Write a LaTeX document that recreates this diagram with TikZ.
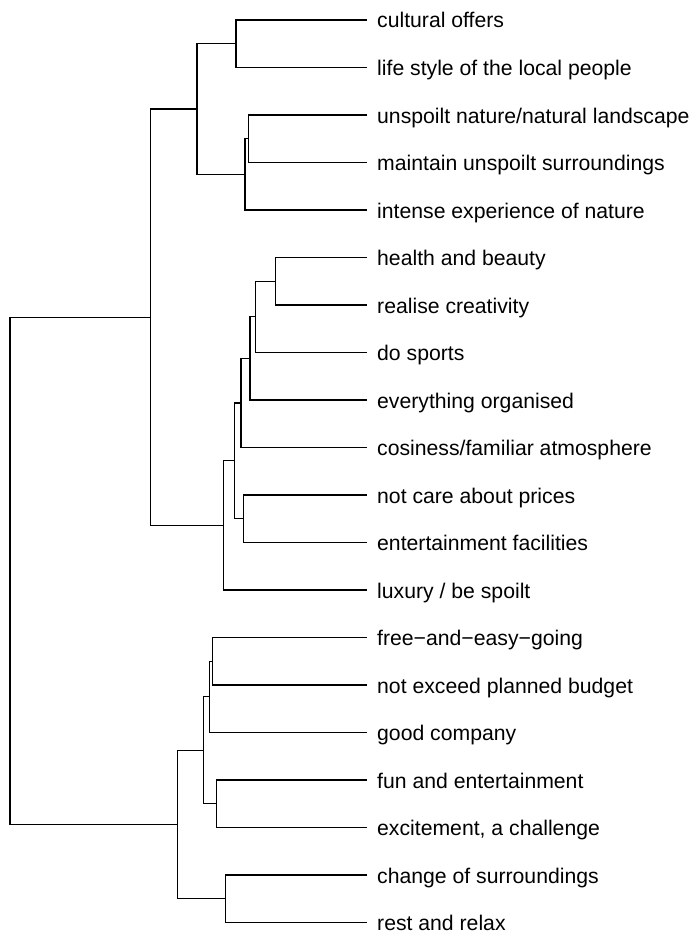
\documentclass[tikz,border=0pt]{standalone}
\usepackage{fontspec}
\setmainfont{Liberation Sans}
\begin{document}
\begin{tikzpicture}[x=1pt,y=-1pt,
  lbl/.style={anchor=base west,inner sep=0pt,font=\fontsize{21.2}{25}\selectfont},
  branch/.style={draw=black,line width=1.2pt,line cap=rect}]
\useasboundingbox (0,0) rectangle (692,934);
% leaves
\foreach \i/\t in {1/{cultural offers},2/{life style of the local people},3/{unspoilt nature/natural landscape},
  4/{maintain unspoilt surroundings},5/{intense experience of nature},6/{health and beauty},7/{realise creativity},
  8/{do sports},9/{everything organised},10/{cosiness/familiar atmosphere},11/{not care about prices},
  12/{entertainment facilities},13/{luxury / be spoilt},14/{free−and−easy−going},15/{not exceed planned budget},
  16/{good company},17/{fun and entertainment},18/{excitement, a challenge},19/{change of surroundings},20/{rest and relax}}{
  \pgfmathsetmacro{\yy}{20+47.5*(\i-1)}
  \coordinate (l\i) at (366.7,\yy);
  \node[lbl] (t\i) at (377,\yy+8) {\t};
}
% merge points
\coordinate (A) at (236,43.75);
\coordinate (B) at (248.7,138.75);
\coordinate (C) at (245,174.375);
\coordinate (D) at (197,109.06);
\coordinate (F) at (275.3,281.25);
\coordinate (G) at (255.3,316.875);
\coordinate (H) at (250,358.44);
\coordinate (I) at (241,402.97);
\coordinate (K) at (243.7,518.75);
\coordinate (J) at (234.3,460.86);
\coordinate (L) at (223.3,525.43);
\coordinate (E) at (150.7,317.25);
\coordinate (M) at (212.7,661.25);
\coordinate (N) at (209.3,696.875);
\coordinate (P) at (216.7,803.75);
\coordinate (O) at (203.7,750.31);
\coordinate (R) at (225.3,898.75);
\coordinate (Q) at (177.3,824.53);
\coordinate (root) at (10,570.89);
% branches
\path[branch] (l1) -| (A) |- (l2);
\path[branch] (l3) -| (B) |- (l4);
\path[branch] (B) -| (C) |- (l5);
\path[branch] (A) -| (D) |- (C);
\path[branch] (l6) -| (F) |- (l7);
\path[branch] (F) -| (G) |- (l8);
\path[branch] (G) -| (H) |- (l9);
\path[branch] (H) -| (I) |- (l10);
\path[branch] (l11) -| (K) |- (l12);
\path[branch] (I) -| (J) |- (K);
\path[branch] (J) -| (L) |- (l13);
\path[branch] (D) -| (E) |- (L);
\path[branch] (l14) -| (M) |- (l15);
\path[branch] (M) -| (N) |- (l16);
\path[branch] (l17) -| (P) |- (l18);
\path[branch] (N) -| (O) |- (P);
\path[branch] (l19) -| (R) |- (l20);
\path[branch] (O) -| (Q) |- (R);
\path[branch] (E) -| (root) |- (Q);
\end{tikzpicture}
\end{document}
